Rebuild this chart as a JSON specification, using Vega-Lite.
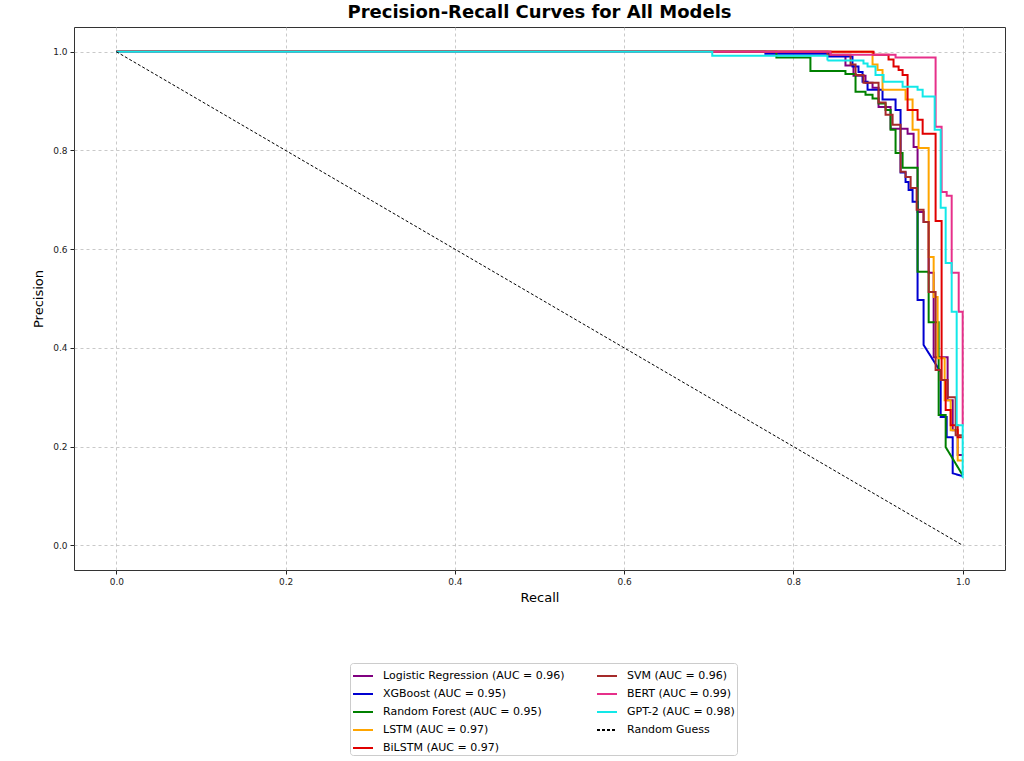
{
  "$schema": "https://vega.github.io/schema/vega-lite/v6.json",
  "autosize": {"type": "none"},
  "width": 931,
  "height": 543,
  "padding": {"left": 74, "top": 27, "right": 19, "bottom": 191},
  "background": "white",
  "title": {
    "text": "Precision-Recall Curves for All Models",
    "font": "DejaVu Sans",
    "fontSize": 18,
    "fontWeight": "bold",
    "color": "black",
    "anchor": "middle",
    "offset": 5
  },
  "config": {
    "view": {"stroke": "#333", "strokeWidth": 1},
    "axis": {
      "labelFont": "DejaVu Sans",
      "labelFontSize": 9,
      "labelColor": "#222",
      "titleFont": "DejaVu Sans",
      "titleFontSize": 13,
      "titleFontWeight": "normal",
      "titleColor": "black",
      "domain": false,
      "tickColor": "#222",
      "tickSize": 4,
      "labelPadding": 3,
      "gridDash": [3, 3],
      "gridColor": "#bbbbbb",
      "gridWidth": 0.8
    }
  },
  "data": {
    "values": [
      {"model": "Logistic Regression (AUC = 0.96)", "i": 0, "recall": 0, "precision": 1},
      {"model": "Logistic Regression (AUC = 0.96)", "i": 1, "recall": 0.8438, "precision": 1},
      {"model": "Logistic Regression (AUC = 0.96)", "i": 2, "recall": 0.8438, "precision": 0.992},
      {"model": "Logistic Regression (AUC = 0.96)", "i": 3, "recall": 0.8615, "precision": 0.992},
      {"model": "Logistic Regression (AUC = 0.96)", "i": 4, "recall": 0.8615, "precision": 0.972},
      {"model": "Logistic Regression (AUC = 0.96)", "i": 5, "recall": 0.871, "precision": 0.972},
      {"model": "Logistic Regression (AUC = 0.96)", "i": 6, "recall": 0.871, "precision": 0.951},
      {"model": "Logistic Regression (AUC = 0.96)", "i": 7, "recall": 0.8852, "precision": 0.951},
      {"model": "Logistic Regression (AUC = 0.96)", "i": 8, "recall": 0.8852, "precision": 0.937},
      {"model": "Logistic Regression (AUC = 0.96)", "i": 9, "recall": 0.8935, "precision": 0.937},
      {"model": "Logistic Regression (AUC = 0.96)", "i": 10, "recall": 0.8935, "precision": 0.927},
      {"model": "Logistic Regression (AUC = 0.96)", "i": 11, "recall": 0.9006, "precision": 0.927},
      {"model": "Logistic Regression (AUC = 0.96)", "i": 12, "recall": 0.9006, "precision": 0.888},
      {"model": "Logistic Regression (AUC = 0.96)", "i": 13, "recall": 0.9148, "precision": 0.888},
      {"model": "Logistic Regression (AUC = 0.96)", "i": 14, "recall": 0.9148, "precision": 0.844},
      {"model": "Logistic Regression (AUC = 0.96)", "i": 15, "recall": 0.9349, "precision": 0.844},
      {"model": "Logistic Regression (AUC = 0.96)", "i": 16, "recall": 0.9349, "precision": 0.834},
      {"model": "Logistic Regression (AUC = 0.96)", "i": 17, "recall": 0.942, "precision": 0.834},
      {"model": "Logistic Regression (AUC = 0.96)", "i": 18, "recall": 0.942, "precision": 0.807},
      {"model": "Logistic Regression (AUC = 0.96)", "i": 19, "recall": 0.9467, "precision": 0.807},
      {"model": "Logistic Regression (AUC = 0.96)", "i": 20, "recall": 0.9467, "precision": 0.675},
      {"model": "Logistic Regression (AUC = 0.96)", "i": 21, "recall": 0.9538, "precision": 0.675},
      {"model": "Logistic Regression (AUC = 0.96)", "i": 22, "recall": 0.9538, "precision": 0.655},
      {"model": "Logistic Regression (AUC = 0.96)", "i": 23, "recall": 0.9598, "precision": 0.655},
      {"model": "Logistic Regression (AUC = 0.96)", "i": 24, "recall": 0.9598, "precision": 0.552},
      {"model": "Logistic Regression (AUC = 0.96)", "i": 25, "recall": 0.9657, "precision": 0.552},
      {"model": "Logistic Regression (AUC = 0.96)", "i": 26, "recall": 0.9657, "precision": 0.381},
      {"model": "Logistic Regression (AUC = 0.96)", "i": 27, "recall": 0.9822, "precision": 0.381},
      {"model": "Logistic Regression (AUC = 0.96)", "i": 28, "recall": 0.9822, "precision": 0.294},
      {"model": "Logistic Regression (AUC = 0.96)", "i": 29, "recall": 0.9882, "precision": 0.294},
      {"model": "Logistic Regression (AUC = 0.96)", "i": 30, "recall": 0.9882, "precision": 0.233},
      {"model": "Logistic Regression (AUC = 0.96)", "i": 31, "recall": 0.9941, "precision": 0.233},
      {"model": "Logistic Regression (AUC = 0.96)", "i": 32, "recall": 0.9941, "precision": 0.183},
      {"model": "Logistic Regression (AUC = 0.96)", "i": 33, "recall": 1, "precision": 0.183},

      {"model": "XGBoost (AUC = 0.95)", "i": 0, "recall": 0, "precision": 1},
      {"model": "XGBoost (AUC = 0.95)", "i": 1, "recall": 0.7669, "precision": 1},
      {"model": "XGBoost (AUC = 0.95)", "i": 2, "recall": 0.7669, "precision": 0.996},
      {"model": "XGBoost (AUC = 0.95)", "i": 3, "recall": 0.8414, "precision": 0.996},
      {"model": "XGBoost (AUC = 0.95)", "i": 4, "recall": 0.8414, "precision": 0.99},
      {"model": "XGBoost (AUC = 0.95)", "i": 5, "recall": 0.8698, "precision": 0.99},
      {"model": "XGBoost (AUC = 0.95)", "i": 6, "recall": 0.8698, "precision": 0.97},
      {"model": "XGBoost (AUC = 0.95)", "i": 7, "recall": 0.8769, "precision": 0.97},
      {"model": "XGBoost (AUC = 0.95)", "i": 8, "recall": 0.8769, "precision": 0.959},
      {"model": "XGBoost (AUC = 0.95)", "i": 9, "recall": 0.8817, "precision": 0.959},
      {"model": "XGBoost (AUC = 0.95)", "i": 10, "recall": 0.8817, "precision": 0.939},
      {"model": "XGBoost (AUC = 0.95)", "i": 11, "recall": 0.8876, "precision": 0.939},
      {"model": "XGBoost (AUC = 0.95)", "i": 12, "recall": 0.8876, "precision": 0.923},
      {"model": "XGBoost (AUC = 0.95)", "i": 13, "recall": 0.9053, "precision": 0.923},
      {"model": "XGBoost (AUC = 0.95)", "i": 14, "recall": 0.9053, "precision": 0.903},
      {"model": "XGBoost (AUC = 0.95)", "i": 15, "recall": 0.9207, "precision": 0.903},
      {"model": "XGBoost (AUC = 0.95)", "i": 16, "recall": 0.9207, "precision": 0.882},
      {"model": "XGBoost (AUC = 0.95)", "i": 17, "recall": 0.9266, "precision": 0.882},
      {"model": "XGBoost (AUC = 0.95)", "i": 18, "recall": 0.9266, "precision": 0.755},
      {"model": "XGBoost (AUC = 0.95)", "i": 19, "recall": 0.9325, "precision": 0.755},
      {"model": "XGBoost (AUC = 0.95)", "i": 20, "recall": 0.9325, "precision": 0.736},
      {"model": "XGBoost (AUC = 0.95)", "i": 21, "recall": 0.9361, "precision": 0.736},
      {"model": "XGBoost (AUC = 0.95)", "i": 22, "recall": 0.9361, "precision": 0.72},
      {"model": "XGBoost (AUC = 0.95)", "i": 23, "recall": 0.9408, "precision": 0.72},
      {"model": "XGBoost (AUC = 0.95)", "i": 24, "recall": 0.9408, "precision": 0.696},
      {"model": "XGBoost (AUC = 0.95)", "i": 25, "recall": 0.9467, "precision": 0.696},
      {"model": "XGBoost (AUC = 0.95)", "i": 26, "recall": 0.9467, "precision": 0.497},
      {"model": "XGBoost (AUC = 0.95)", "i": 27, "recall": 0.9538, "precision": 0.497},
      {"model": "XGBoost (AUC = 0.95)", "i": 28, "recall": 0.9538, "precision": 0.406},
      {"model": "XGBoost (AUC = 0.95)", "i": 29, "recall": 0.974, "precision": 0.351},
      {"model": "XGBoost (AUC = 0.95)", "i": 30, "recall": 0.974, "precision": 0.26},
      {"model": "XGBoost (AUC = 0.95)", "i": 31, "recall": 0.9811, "precision": 0.26},
      {"model": "XGBoost (AUC = 0.95)", "i": 32, "recall": 0.9811, "precision": 0.219},
      {"model": "XGBoost (AUC = 0.95)", "i": 33, "recall": 0.9882, "precision": 0.219},
      {"model": "XGBoost (AUC = 0.95)", "i": 34, "recall": 0.9882, "precision": 0.146},
      {"model": "XGBoost (AUC = 0.95)", "i": 35, "recall": 1, "precision": 0.14},

      {"model": "Random Forest (AUC = 0.95)", "i": 0, "recall": 0, "precision": 1},
      {"model": "Random Forest (AUC = 0.95)", "i": 1, "recall": 0.7799, "precision": 1},
      {"model": "Random Forest (AUC = 0.95)", "i": 2, "recall": 0.7799, "precision": 0.988},
      {"model": "Random Forest (AUC = 0.95)", "i": 3, "recall": 0.8201, "precision": 0.988},
      {"model": "Random Forest (AUC = 0.95)", "i": 4, "recall": 0.8201, "precision": 0.961},
      {"model": "Random Forest (AUC = 0.95)", "i": 5, "recall": 0.8615, "precision": 0.961},
      {"model": "Random Forest (AUC = 0.95)", "i": 6, "recall": 0.8615, "precision": 0.955},
      {"model": "Random Forest (AUC = 0.95)", "i": 7, "recall": 0.8734, "precision": 0.955},
      {"model": "Random Forest (AUC = 0.95)", "i": 8, "recall": 0.8734, "precision": 0.919},
      {"model": "Random Forest (AUC = 0.95)", "i": 9, "recall": 0.8852, "precision": 0.919},
      {"model": "Random Forest (AUC = 0.95)", "i": 10, "recall": 0.8852, "precision": 0.913},
      {"model": "Random Forest (AUC = 0.95)", "i": 11, "recall": 0.8935, "precision": 0.913},
      {"model": "Random Forest (AUC = 0.95)", "i": 12, "recall": 0.8935, "precision": 0.905},
      {"model": "Random Forest (AUC = 0.95)", "i": 13, "recall": 0.9006, "precision": 0.905},
      {"model": "Random Forest (AUC = 0.95)", "i": 14, "recall": 0.9006, "precision": 0.895},
      {"model": "Random Forest (AUC = 0.95)", "i": 15, "recall": 0.9089, "precision": 0.895},
      {"model": "Random Forest (AUC = 0.95)", "i": 16, "recall": 0.9089, "precision": 0.882},
      {"model": "Random Forest (AUC = 0.95)", "i": 17, "recall": 0.9148, "precision": 0.882},
      {"model": "Random Forest (AUC = 0.95)", "i": 18, "recall": 0.9148, "precision": 0.842},
      {"model": "Random Forest (AUC = 0.95)", "i": 19, "recall": 0.9207, "precision": 0.842},
      {"model": "Random Forest (AUC = 0.95)", "i": 20, "recall": 0.9207, "precision": 0.795},
      {"model": "Random Forest (AUC = 0.95)", "i": 21, "recall": 0.929, "precision": 0.795},
      {"model": "Random Forest (AUC = 0.95)", "i": 22, "recall": 0.929, "precision": 0.765},
      {"model": "Random Forest (AUC = 0.95)", "i": 23, "recall": 0.9467, "precision": 0.765},
      {"model": "Random Forest (AUC = 0.95)", "i": 24, "recall": 0.9467, "precision": 0.554},
      {"model": "Random Forest (AUC = 0.95)", "i": 25, "recall": 0.9598, "precision": 0.554},
      {"model": "Random Forest (AUC = 0.95)", "i": 26, "recall": 0.9598, "precision": 0.452},
      {"model": "Random Forest (AUC = 0.95)", "i": 27, "recall": 0.9716, "precision": 0.452},
      {"model": "Random Forest (AUC = 0.95)", "i": 28, "recall": 0.9716, "precision": 0.264},
      {"model": "Random Forest (AUC = 0.95)", "i": 29, "recall": 0.9799, "precision": 0.264},
      {"model": "Random Forest (AUC = 0.95)", "i": 30, "recall": 0.9799, "precision": 0.199},
      {"model": "Random Forest (AUC = 0.95)", "i": 31, "recall": 1, "precision": 0.142},

      {"model": "LSTM (AUC = 0.97)", "i": 0, "recall": 0, "precision": 1},
      {"model": "LSTM (AUC = 0.97)", "i": 1, "recall": 0.8935, "precision": 1},
      {"model": "LSTM (AUC = 0.97)", "i": 2, "recall": 0.8935, "precision": 0.974},
      {"model": "LSTM (AUC = 0.97)", "i": 3, "recall": 0.8994, "precision": 0.974},
      {"model": "LSTM (AUC = 0.97)", "i": 4, "recall": 0.8994, "precision": 0.963},
      {"model": "LSTM (AUC = 0.97)", "i": 5, "recall": 0.9053, "precision": 0.963},
      {"model": "LSTM (AUC = 0.97)", "i": 6, "recall": 0.9053, "precision": 0.923},
      {"model": "LSTM (AUC = 0.97)", "i": 7, "recall": 0.9325, "precision": 0.923},
      {"model": "LSTM (AUC = 0.97)", "i": 8, "recall": 0.9325, "precision": 0.903},
      {"model": "LSTM (AUC = 0.97)", "i": 9, "recall": 0.9408, "precision": 0.903},
      {"model": "LSTM (AUC = 0.97)", "i": 10, "recall": 0.9408, "precision": 0.842},
      {"model": "LSTM (AUC = 0.97)", "i": 11, "recall": 0.9479, "precision": 0.842},
      {"model": "LSTM (AUC = 0.97)", "i": 12, "recall": 0.9479, "precision": 0.805},
      {"model": "LSTM (AUC = 0.97)", "i": 13, "recall": 0.9598, "precision": 0.805},
      {"model": "LSTM (AUC = 0.97)", "i": 14, "recall": 0.9598, "precision": 0.584},
      {"model": "LSTM (AUC = 0.97)", "i": 15, "recall": 0.9657, "precision": 0.584},
      {"model": "LSTM (AUC = 0.97)", "i": 16, "recall": 0.9657, "precision": 0.503},
      {"model": "LSTM (AUC = 0.97)", "i": 17, "recall": 0.9704, "precision": 0.503},
      {"model": "LSTM (AUC = 0.97)", "i": 18, "recall": 0.9704, "precision": 0.379},
      {"model": "LSTM (AUC = 0.97)", "i": 19, "recall": 0.9787, "precision": 0.379},
      {"model": "LSTM (AUC = 0.97)", "i": 20, "recall": 0.9787, "precision": 0.294},
      {"model": "LSTM (AUC = 0.97)", "i": 21, "recall": 0.9858, "precision": 0.294},
      {"model": "LSTM (AUC = 0.97)", "i": 22, "recall": 0.9858, "precision": 0.233},
      {"model": "LSTM (AUC = 0.97)", "i": 23, "recall": 0.9941, "precision": 0.233},
      {"model": "LSTM (AUC = 0.97)", "i": 24, "recall": 0.9941, "precision": 0.172},
      {"model": "LSTM (AUC = 0.97)", "i": 25, "recall": 1, "precision": 0.172},

      {"model": "BiLSTM (AUC = 0.97)", "i": 0, "recall": 0, "precision": 1},
      {"model": "BiLSTM (AUC = 0.97)", "i": 1, "recall": 0.8947, "precision": 1},
      {"model": "BiLSTM (AUC = 0.97)", "i": 2, "recall": 0.8947, "precision": 0.994},
      {"model": "BiLSTM (AUC = 0.97)", "i": 3, "recall": 0.9124, "precision": 0.994},
      {"model": "BiLSTM (AUC = 0.97)", "i": 4, "recall": 0.9124, "precision": 0.984},
      {"model": "BiLSTM (AUC = 0.97)", "i": 5, "recall": 0.9183, "precision": 0.984},
      {"model": "BiLSTM (AUC = 0.97)", "i": 6, "recall": 0.9183, "precision": 0.97},
      {"model": "BiLSTM (AUC = 0.97)", "i": 7, "recall": 0.9243, "precision": 0.97},
      {"model": "BiLSTM (AUC = 0.97)", "i": 8, "recall": 0.9243, "precision": 0.963},
      {"model": "BiLSTM (AUC = 0.97)", "i": 9, "recall": 0.929, "precision": 0.963},
      {"model": "BiLSTM (AUC = 0.97)", "i": 10, "recall": 0.929, "precision": 0.953},
      {"model": "BiLSTM (AUC = 0.97)", "i": 11, "recall": 0.9349, "precision": 0.953},
      {"model": "BiLSTM (AUC = 0.97)", "i": 12, "recall": 0.9349, "precision": 0.882},
      {"model": "BiLSTM (AUC = 0.97)", "i": 13, "recall": 0.9467, "precision": 0.882},
      {"model": "BiLSTM (AUC = 0.97)", "i": 14, "recall": 0.9467, "precision": 0.862},
      {"model": "BiLSTM (AUC = 0.97)", "i": 15, "recall": 0.9527, "precision": 0.862},
      {"model": "BiLSTM (AUC = 0.97)", "i": 16, "recall": 0.9527, "precision": 0.834},
      {"model": "BiLSTM (AUC = 0.97)", "i": 17, "recall": 0.968, "precision": 0.834},
      {"model": "BiLSTM (AUC = 0.97)", "i": 18, "recall": 0.968, "precision": 0.657},
      {"model": "BiLSTM (AUC = 0.97)", "i": 19, "recall": 0.9751, "precision": 0.657},
      {"model": "BiLSTM (AUC = 0.97)", "i": 20, "recall": 0.9751, "precision": 0.335},
      {"model": "BiLSTM (AUC = 0.97)", "i": 21, "recall": 0.9799, "precision": 0.335},
      {"model": "BiLSTM (AUC = 0.97)", "i": 22, "recall": 0.9799, "precision": 0.274},
      {"model": "BiLSTM (AUC = 0.97)", "i": 23, "recall": 0.9858, "precision": 0.274},
      {"model": "BiLSTM (AUC = 0.97)", "i": 24, "recall": 0.9858, "precision": 0.243},
      {"model": "BiLSTM (AUC = 0.97)", "i": 25, "recall": 0.9941, "precision": 0.243},
      {"model": "BiLSTM (AUC = 0.97)", "i": 26, "recall": 0.9941, "precision": 0.219},
      {"model": "BiLSTM (AUC = 0.97)", "i": 27, "recall": 1, "precision": 0.219},

      {"model": "SVM (AUC = 0.96)", "i": 0, "recall": 0, "precision": 1},
      {"model": "SVM (AUC = 0.96)", "i": 1, "recall": 0.8402, "precision": 1},
      {"model": "SVM (AUC = 0.96)", "i": 2, "recall": 0.8402, "precision": 0.994},
      {"model": "SVM (AUC = 0.96)", "i": 3, "recall": 0.8675, "precision": 0.994},
      {"model": "SVM (AUC = 0.96)", "i": 4, "recall": 0.8675, "precision": 0.974},
      {"model": "SVM (AUC = 0.96)", "i": 5, "recall": 0.8734, "precision": 0.974},
      {"model": "SVM (AUC = 0.96)", "i": 6, "recall": 0.8734, "precision": 0.953},
      {"model": "SVM (AUC = 0.96)", "i": 7, "recall": 0.8828, "precision": 0.953},
      {"model": "SVM (AUC = 0.96)", "i": 8, "recall": 0.8828, "precision": 0.937},
      {"model": "SVM (AUC = 0.96)", "i": 9, "recall": 0.9006, "precision": 0.937},
      {"model": "SVM (AUC = 0.96)", "i": 10, "recall": 0.9006, "precision": 0.897},
      {"model": "SVM (AUC = 0.96)", "i": 11, "recall": 0.9089, "precision": 0.897},
      {"model": "SVM (AUC = 0.96)", "i": 12, "recall": 0.9089, "precision": 0.872},
      {"model": "SVM (AUC = 0.96)", "i": 13, "recall": 0.9172, "precision": 0.872},
      {"model": "SVM (AUC = 0.96)", "i": 14, "recall": 0.9172, "precision": 0.852},
      {"model": "SVM (AUC = 0.96)", "i": 15, "recall": 0.9266, "precision": 0.852},
      {"model": "SVM (AUC = 0.96)", "i": 16, "recall": 0.9266, "precision": 0.757},
      {"model": "SVM (AUC = 0.96)", "i": 17, "recall": 0.9325, "precision": 0.757},
      {"model": "SVM (AUC = 0.96)", "i": 18, "recall": 0.9325, "precision": 0.746},
      {"model": "SVM (AUC = 0.96)", "i": 19, "recall": 0.9385, "precision": 0.746},
      {"model": "SVM (AUC = 0.96)", "i": 20, "recall": 0.9385, "precision": 0.724},
      {"model": "SVM (AUC = 0.96)", "i": 21, "recall": 0.9456, "precision": 0.724},
      {"model": "SVM (AUC = 0.96)", "i": 22, "recall": 0.9456, "precision": 0.68},
      {"model": "SVM (AUC = 0.96)", "i": 23, "recall": 0.9538, "precision": 0.68},
      {"model": "SVM (AUC = 0.96)", "i": 24, "recall": 0.9538, "precision": 0.655},
      {"model": "SVM (AUC = 0.96)", "i": 25, "recall": 0.9598, "precision": 0.655},
      {"model": "SVM (AUC = 0.96)", "i": 26, "recall": 0.9598, "precision": 0.513},
      {"model": "SVM (AUC = 0.96)", "i": 27, "recall": 0.968, "precision": 0.513},
      {"model": "SVM (AUC = 0.96)", "i": 28, "recall": 0.968, "precision": 0.355},
      {"model": "SVM (AUC = 0.96)", "i": 29, "recall": 0.974, "precision": 0.355},
      {"model": "SVM (AUC = 0.96)", "i": 30, "recall": 0.974, "precision": 0.335},
      {"model": "SVM (AUC = 0.96)", "i": 31, "recall": 0.9822, "precision": 0.335},
      {"model": "SVM (AUC = 0.96)", "i": 32, "recall": 0.9822, "precision": 0.3},
      {"model": "SVM (AUC = 0.96)", "i": 33, "recall": 0.9917, "precision": 0.3},
      {"model": "SVM (AUC = 0.96)", "i": 34, "recall": 0.9917, "precision": 0.223},
      {"model": "SVM (AUC = 0.96)", "i": 35, "recall": 1, "precision": 0.223},

      {"model": "BERT (AUC = 0.99)", "i": 0, "recall": 0, "precision": 1},
      {"model": "BERT (AUC = 0.99)", "i": 1, "recall": 0.8438, "precision": 1},
      {"model": "BERT (AUC = 0.99)", "i": 2, "recall": 0.8438, "precision": 0.994},
      {"model": "BERT (AUC = 0.99)", "i": 3, "recall": 0.9207, "precision": 0.994},
      {"model": "BERT (AUC = 0.99)", "i": 4, "recall": 0.9207, "precision": 0.988},
      {"model": "BERT (AUC = 0.99)", "i": 5, "recall": 0.968, "precision": 0.988},
      {"model": "BERT (AUC = 0.99)", "i": 6, "recall": 0.968, "precision": 0.848},
      {"model": "BERT (AUC = 0.99)", "i": 7, "recall": 0.9751, "precision": 0.848},
      {"model": "BERT (AUC = 0.99)", "i": 8, "recall": 0.9751, "precision": 0.716},
      {"model": "BERT (AUC = 0.99)", "i": 9, "recall": 0.9811, "precision": 0.716},
      {"model": "BERT (AUC = 0.99)", "i": 10, "recall": 0.9811, "precision": 0.708},
      {"model": "BERT (AUC = 0.99)", "i": 11, "recall": 0.987, "precision": 0.708},
      {"model": "BERT (AUC = 0.99)", "i": 12, "recall": 0.987, "precision": 0.552},
      {"model": "BERT (AUC = 0.99)", "i": 13, "recall": 0.9953, "precision": 0.552},
      {"model": "BERT (AUC = 0.99)", "i": 14, "recall": 0.9953, "precision": 0.473},
      {"model": "BERT (AUC = 0.99)", "i": 15, "recall": 1, "precision": 0.473},
      {"model": "BERT (AUC = 0.99)", "i": 16, "recall": 1, "precision": 0.245},

      {"model": "GPT-2 (AUC = 0.98)", "i": 0, "recall": 0, "precision": 1},
      {"model": "GPT-2 (AUC = 0.98)", "i": 1, "recall": 0.7041, "precision": 1},
      {"model": "GPT-2 (AUC = 0.98)", "i": 2, "recall": 0.7041, "precision": 0.992},
      {"model": "GPT-2 (AUC = 0.98)", "i": 3, "recall": 0.8402, "precision": 0.992},
      {"model": "GPT-2 (AUC = 0.98)", "i": 4, "recall": 0.8402, "precision": 0.982},
      {"model": "GPT-2 (AUC = 0.98)", "i": 5, "recall": 0.8828, "precision": 0.982},
      {"model": "GPT-2 (AUC = 0.98)", "i": 6, "recall": 0.8828, "precision": 0.976},
      {"model": "GPT-2 (AUC = 0.98)", "i": 7, "recall": 0.8876, "precision": 0.976},
      {"model": "GPT-2 (AUC = 0.98)", "i": 8, "recall": 0.8876, "precision": 0.97},
      {"model": "GPT-2 (AUC = 0.98)", "i": 9, "recall": 0.897, "precision": 0.97},
      {"model": "GPT-2 (AUC = 0.98)", "i": 10, "recall": 0.897, "precision": 0.953},
      {"model": "GPT-2 (AUC = 0.98)", "i": 11, "recall": 0.9065, "precision": 0.953},
      {"model": "GPT-2 (AUC = 0.98)", "i": 12, "recall": 0.9065, "precision": 0.939},
      {"model": "GPT-2 (AUC = 0.98)", "i": 13, "recall": 0.929, "precision": 0.939},
      {"model": "GPT-2 (AUC = 0.98)", "i": 14, "recall": 0.929, "precision": 0.929},
      {"model": "GPT-2 (AUC = 0.98)", "i": 15, "recall": 0.9467, "precision": 0.929},
      {"model": "GPT-2 (AUC = 0.98)", "i": 16, "recall": 0.9467, "precision": 0.923},
      {"model": "GPT-2 (AUC = 0.98)", "i": 17, "recall": 0.9527, "precision": 0.923},
      {"model": "GPT-2 (AUC = 0.98)", "i": 18, "recall": 0.9527, "precision": 0.909},
      {"model": "GPT-2 (AUC = 0.98)", "i": 19, "recall": 0.9669, "precision": 0.909},
      {"model": "GPT-2 (AUC = 0.98)", "i": 20, "recall": 0.9669, "precision": 0.842},
      {"model": "GPT-2 (AUC = 0.98)", "i": 21, "recall": 0.974, "precision": 0.842},
      {"model": "GPT-2 (AUC = 0.98)", "i": 22, "recall": 0.974, "precision": 0.684},
      {"model": "GPT-2 (AUC = 0.98)", "i": 23, "recall": 0.9799, "precision": 0.684},
      {"model": "GPT-2 (AUC = 0.98)", "i": 24, "recall": 0.9799, "precision": 0.572},
      {"model": "GPT-2 (AUC = 0.98)", "i": 25, "recall": 0.987, "precision": 0.572},
      {"model": "GPT-2 (AUC = 0.98)", "i": 26, "recall": 0.987, "precision": 0.473},
      {"model": "GPT-2 (AUC = 0.98)", "i": 27, "recall": 0.9929, "precision": 0.473},
      {"model": "GPT-2 (AUC = 0.98)", "i": 28, "recall": 0.9929, "precision": 0.243},
      {"model": "GPT-2 (AUC = 0.98)", "i": 29, "recall": 1, "precision": 0.243},
      {"model": "GPT-2 (AUC = 0.98)", "i": 30, "recall": 1, "precision": 0.136},

      {"model": "Random Guess", "i": 0, "recall": 0, "precision": 1},
      {"model": "Random Guess", "i": 1, "recall": 1, "precision": 0}
    ]
  },
  "mark": {"type": "line", "clip": true},
  "encoding": {
    "x": {
      "field": "recall",
      "type": "quantitative",
      "scale": {"domain": [-0.05, 1.05], "nice": false, "zero": false},
      "axis": {"title": "Recall", "values": [0, 0.2, 0.4, 0.6, 0.8, 1.0], "format": ".1f", "titlePadding": 5}
    },
    "y": {
      "field": "precision",
      "type": "quantitative",
      "scale": {"domain": [-0.05, 1.05], "nice": false, "zero": false},
      "axis": {"title": "Precision", "values": [0, 0.2, 0.4, 0.6, 0.8, 1.0], "format": ".1f", "titlePadding": 7}
    },
    "order": {"field": "i", "type": "quantitative"},
    "color": {
      "field": "model",
      "type": "nominal",
      "scale": {
        "domain": [
          "Logistic Regression (AUC = 0.96)", "XGBoost (AUC = 0.95)",
          "Random Forest (AUC = 0.95)", "LSTM (AUC = 0.97)",
          "BiLSTM (AUC = 0.97)", "SVM (AUC = 0.96)",
          "BERT (AUC = 0.99)", "GPT-2 (AUC = 0.98)", "Random Guess"
        ],
        "range": ["#800080", "#0000d0", "#008000", "#ffa500", "#e00000", "#a52a2a", "#e6308a", "#12e8e8", "#000000"]
      },
      "legend": {
        "title": null,
        "orient": "none",
        "legendX": 276,
        "legendY": 636,
        "columns": 2,
        "columnPadding": 28,
        "rowPadding": 2,
        "padding": 2,
        "fillColor": "white",
        "strokeColor": "#cccccc",
        "cornerRadius": 3,
        "symbolType": "stroke",
        "symbolSize": 400,
        "symbolStrokeWidth": 2,
        "labelFont": "DejaVu Sans",
        "labelFontSize": 11,
        "labelColor": "black",
        "labelOffset": 9,
        "labelLimit": 300
      }
    },
    "strokeDash": {
      "field": "model",
      "type": "nominal",
      "scale": {
        "domain": [
          "Logistic Regression (AUC = 0.96)", "XGBoost (AUC = 0.95)",
          "Random Forest (AUC = 0.95)", "LSTM (AUC = 0.97)",
          "BiLSTM (AUC = 0.97)", "SVM (AUC = 0.96)",
          "BERT (AUC = 0.99)", "GPT-2 (AUC = 0.98)", "Random Guess"
        ],
        "range": [[1, 0], [1, 0], [1, 0], [1, 0], [1, 0], [1, 0], [1, 0], [1, 0], [3, 2]]
      },
      "legend": null
    },
    "strokeWidth": {
      "condition": {"test": "datum.model === 'Random Guess'", "value": 1},
      "value": 2
    }
  }
}
